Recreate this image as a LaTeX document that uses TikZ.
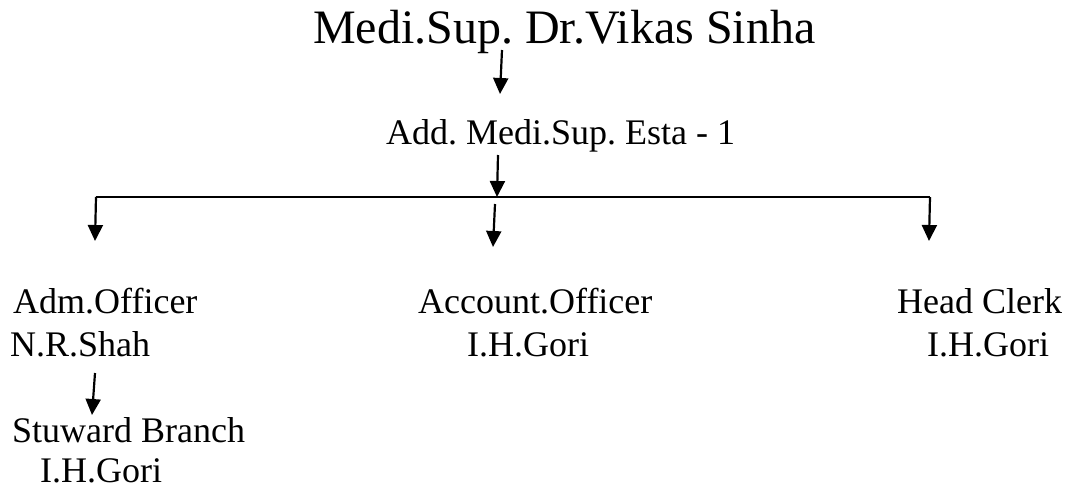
\documentclass[tikz,border=0pt]{standalone}
\usepackage{fontspec}
\setmainfont{Liberation Serif}
\usetikzlibrary{arrows.meta}
\frenchspacing
\tikzset{
  lbl/.style={anchor=base west, inner sep=0pt, font=\fontsize{36}{40}\selectfont},
  ttl/.style={anchor=base west, inner sep=0pt, font=\fontsize{48}{54}\selectfont},
  conn/.style={line width=2.2pt},
  arr/.style={conn, -{Triangle[width=15pt,length=16pt]}},
}
\begin{document}
\begin{tikzpicture}[x=1pt,y=-1pt]
\useasboundingbox (0,0) rectangle (1072,488);
% texts
\node[ttl] (top) at (313,43) {Medi.Sup. Dr.Vikas Sinha};
\node[lbl] (add) at (386,144) {Add. Medi.Sup. Esta - 1};
\node[lbl] (adm) at (13,313) {Adm.Officer};
\node[lbl] (admn) at (10,356) {N.R.Shah};
\node[lbl] (acc) at (418,313) {Account.Officer};
\node[lbl] (accn) at (467,356) {I.H.Gori};
\node[lbl] (hc) at (897,313) {Head Clerk};
\node[lbl] (hcn) at (927,356) {I.H.Gori};
\node[lbl] (stw) at (12,442) {Stuward Branch};
\node[lbl] (stwn) at (40,482) {I.H.Gori};
% connector points
\coordinate (a1s) at (502,50);
\coordinate (a1e) at (500,94);
\coordinate (a2s) at (498,155);
\coordinate (a2e) at (497,197);
\coordinate (hl) at (96,197);
\coordinate (hr) at (930,197);
\coordinate (lte) at (95,241);
\coordinate (rte) at (929,241);
\coordinate (ms) at (495,204);
\coordinate (me) at (493,247);
\coordinate (a3s) at (95,373);
\coordinate (a3e) at (92,415);
% connectors
\draw[arr] (a1s) -- (a1e);
\draw[arr] (a2s) -- (a2e);
\draw[conn] (hl) -- (hr);
\draw[arr] (hl) -- (lte);
\draw[arr] (hr) -- (rte);
\draw[arr] (ms) -- (me);
\draw[arr] (a3s) -- (a3e);
\end{tikzpicture}
\end{document}
